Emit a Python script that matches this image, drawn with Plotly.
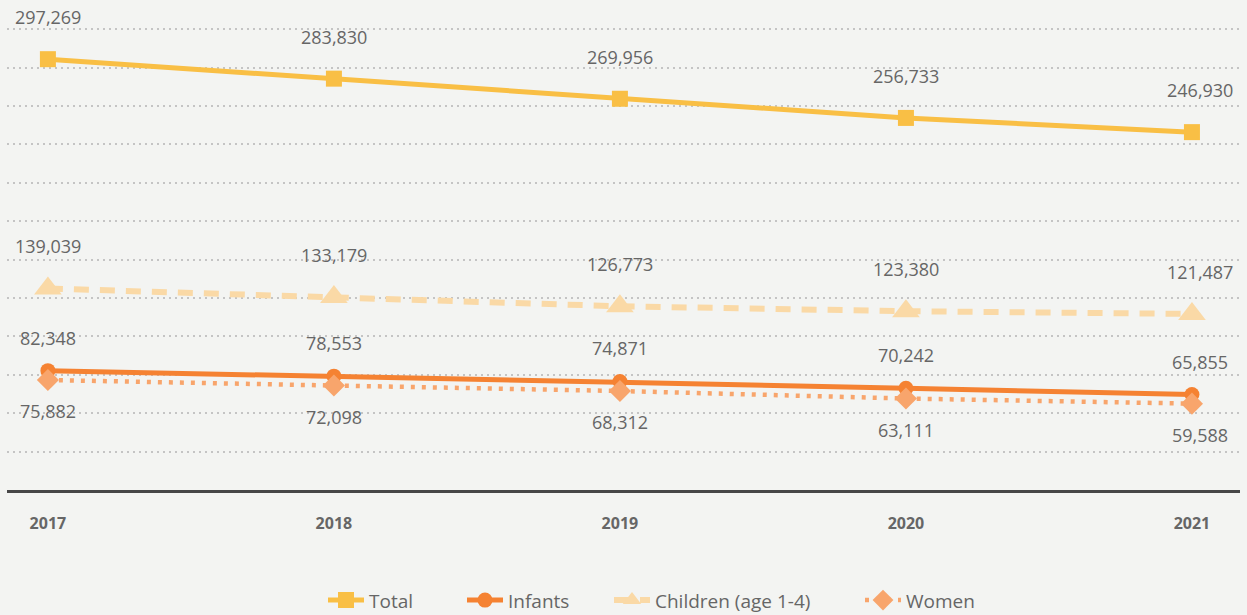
import plotly.graph_objects as go

# Yearly counts by group
years = [2017, 2018, 2019, 2020, 2021]
total = [297269, 283830, 269956, 256733, 246930]
infants = [82348, 78553, 74871, 70242, 65855]
children = [139039, 133179, 126773, 123380, 121487]
women = [75882, 72098, 68312, 63111, 59588]

BG = "#F3F4F2"
TEXT = "#666666"
FONT = "Open Sans"
W, H = 1247, 615

series = [
    dict(name="Total", y=total, color="#F9BF45", width=5, dash="solid",
         symbol="square", size=16, shift=42, legend="legend", lx=323),
    dict(name="Infants", y=infants, color="#F58232", width=5, dash="solid",
         symbol="circle", size=15, shift=33, legend="legend2", lx=462),
    dict(name="Children (age 1-4)", y=children, color="#FAD9A6", width=6,
         dash="15px,11px", symbol="triangle-up", size=24, shift=42,
         legend="legend3", lx=609),
    dict(name="Women", y=women, color="#F8A56C", width=4.5, dash="4px,7px",
         symbol="diamond", size=17, shift=-31, legend="legend4", lx=860),
]

fig = go.Figure()
annotations = []
legends = {}
for s in series:
    fig.add_trace(go.Scatter(
        x=years, y=s["y"], name=s["name"], mode="lines+markers",
        line=dict(color=s["color"], width=s["width"], dash=s["dash"]),
        marker=dict(symbol=s["symbol"], size=s["size"], color=s["color"]),
        hoverinfo="skip", legend=s["legend"],
    ))
    legends[s["legend"]] = dict(
        orientation="h", xref="container", x=s["lx"] / W, xanchor="left",
        yref="container", y=0.024, yanchor="middle",
        font=dict(family=FONT, size=19, color=TEXT),
        bgcolor="rgba(0,0,0,0)", itemwidth=36,
    )
    for i, (xv, yv) in enumerate(zip(years, s["y"])):
        annotations.append(dict(
            x=xv, y=yv, xref="x", yref="y", text=f"{yv:,}",
            showarrow=False, yshift=s["shift"],
            xshift=8 if i == len(years) - 1 else 0,
            font=dict(family=FONT, size=18, color=TEXT),
        ))

fig.update_layout(
    width=W, height=H,
    margin=dict(l=7, r=7, t=10, b=125, autoexpand=False),
    paper_bgcolor=BG, plot_bgcolor=BG,
    annotations=annotations,
    showlegend=True,
    xaxis=dict(
        range=[2016.857, 2021.168], tickvals=years,
        ticktext=[str(y) for y in years],
        tickfont=dict(family=FONT, size=16, color=TEXT, weight=700),
        ticks="outside", ticklen=17, tickcolor="rgba(0,0,0,0)",
        showgrid=False, zeroline=False,
        showline=True, linecolor="#474747", linewidth=3,
    ),
    yaxis=dict(
        range=[0, 331200], dtick=26500, showticklabels=False,
        showgrid=True, gridcolor="#C4C4C4", gridwidth=2, griddash="2px,4px",
        zeroline=False, showline=False, ticks="",
    ),
    **legends,
)

fig.write_html("out.html")
